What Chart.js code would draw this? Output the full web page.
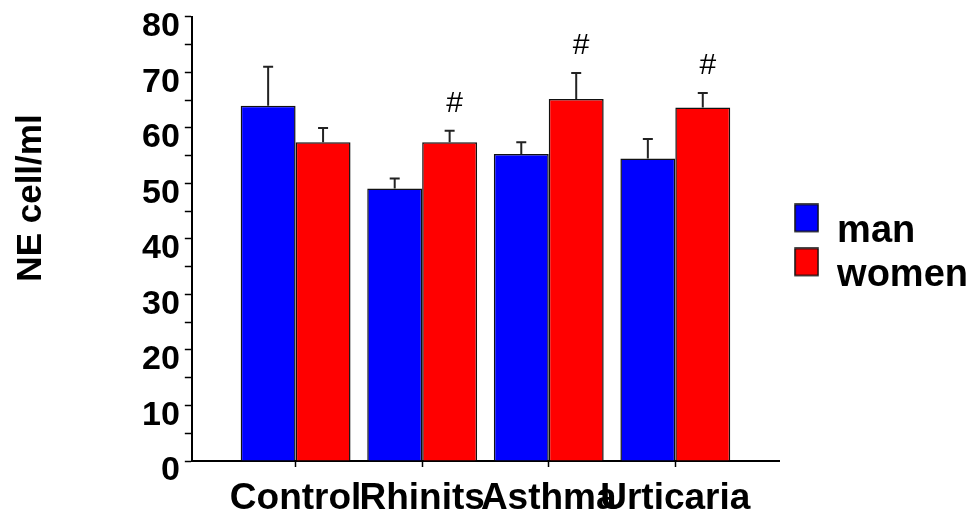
<!DOCTYPE html>
<html><head><meta charset="utf-8">
<script src="https://cdn.jsdelivr.net/npm/chart.js@4/dist/chart.umd.min.js"></script>
<style>html,body{margin:0;padding:0;background:#fff}canvas{display:block}</style>
</head><body>
<canvas id="c" width="979" height="513"></canvas>
<script>
const categories = ['Control', 'Rhinits', 'Asthma', 'Urticaria'];
const seriesNames = ['man', 'women'];
const manValues = [64.0, 49.1, 55.3, 54.5];
const womenValues = [57.4, 57.4, 65.2, 63.7];
const manErrors = [7.0, 1.8, 2.1, 3.5];
const womenErrors = [2.6, 2.1, 4.7, 2.6];
const womenMarks = ['', '#', '#', '#'];
const yAxisTitle = 'NE cell/ml';

const FONT = "'Liberation Sans', Arial, Helvetica, sans-serif";
Chart.defaults.color = '#000';
Chart.defaults.font.family = FONT;

// legend swatch: square sitting a little above the text's middle line
function swatch(color) {
  const c = document.createElement('canvas');
  c.width = 25; c.height = 57;
  const g = c.getContext('2d');
  g.fillStyle = color;
  g.fillRect(1, 1, 23, 27);
  g.strokeStyle = '#111';
  g.lineWidth = 1.5;
  g.strokeRect(1, 1, 23, 27);
  return c;
}

const errorBars = {
  id: 'errorBars',
  afterDatasetsDraw(chart) {
    const ctx = chart.ctx;
    const ys = chart.scales.y;
    const sets = [[manValues, manErrors], [womenValues, womenErrors]];
    ctx.save();
    ctx.strokeStyle = '#222';
    ctx.lineWidth = 2;
    sets.forEach(([vals, errs], d) => {
      chart.getDatasetMeta(d).data.forEach((bar, i) => {
        const yt = ys.getPixelForValue(vals[i] + errs[i]);
        ctx.beginPath();
        ctx.moveTo(bar.x, bar.y);
        ctx.lineTo(bar.x, yt);
        ctx.moveTo(bar.x - 5, yt);
        ctx.lineTo(bar.x + 5, yt);
        ctx.stroke();
      });
    });
    ctx.fillStyle = '#000';
    ctx.font = '30px ' + FONT;
    ctx.textAlign = 'center';
    ctx.textBaseline = 'middle';
    chart.getDatasetMeta(1).data.forEach((bar, i) => {
      if (!womenMarks[i]) return;
      const yt = ys.getPixelForValue(womenValues[i] + womenErrors[i]);
      ctx.fillText(womenMarks[i], bar.x + 5, yt - 27);
    });
    ctx.restore();
  },
  afterDraw(chart) {
    const ctx = chart.ctx;
    ctx.save();
    ctx.translate(31, 198);
    ctx.rotate(-Math.PI / 2);
    ctx.font = 'bold 35px ' + FONT;
    ctx.fillStyle = '#000';
    ctx.textAlign = 'center';
    ctx.textBaseline = 'middle';
    ctx.fillText(yAxisTitle, 0, 0);
    ctx.restore();
  },
  afterLayout(chart) {
    const lg = chart.legend;
    if (lg) { lg.left += 10; lg.right += 10; lg.top += 15; lg.bottom += 15; }
  }
};

new Chart(document.getElementById('c'), {
  type: 'bar',
  data: {
    datasets: [
      {
        label: seriesNames[0],
        data: categories.map((c, i) => ({x: i, y: manValues[i]})),
        backgroundColor: '#0000ff',
        borderColor: '#111',
        borderWidth: 1.5,
        pointStyle: swatch('#0000ff')
      },
      {
        label: seriesNames[1],
        data: categories.map((c, i) => ({x: i, y: womenValues[i]})),
        backgroundColor: '#ff0000',
        borderColor: '#111',
        borderWidth: 1.5,
        pointStyle: swatch('#ff0000')
      }
    ]
  },
  options: {
    responsive: false,
    animation: false,
    events: [],
    categoryPercentage: 0.868,
    barPercentage: 1.0,
    layout: { padding: { left: 137, right: 11, top: 0, bottom: -17 } },
    plugins: {
      tooltip: { enabled: false },
      legend: {
        position: 'right',
        fullSize: false,
        labels: {
          usePointStyle: true,
          boxWidth: 23,
          boxHeight: 27,
          padding: 6,
          color: '#000',
          font: { family: FONT, size: 38, weight: 'bold' }
        }
      }
    },
    scales: {
      x: {
        type: 'linear',
        offset: false,
        min: -0.82,
        max: 3.82,
        afterBuildTicks: s => { s.ticks = categories.map((c, i) => ({ value: i })); },
        ticks: {
          autoSkip: false,
          maxRotation: 0,
          padding: 13,
          color: '#000',
          callback: v => categories[v] !== undefined ? categories[v] : '',
          font: { family: FONT, size: 37, weight: 'bold', lineHeight: 1 }
        },
        grid: { offset: false, drawOnChartArea: false, drawTicks: true, tickLength: 6, tickColor: '#000', tickWidth: 1.5 },
        border: { display: true, color: '#000', width: 2 }
      },
      y: {
        min: 0,
        max: 80,
        ticks: {
          stepSize: 5,
          padding: 5,
          labelOffset: 10,
          color: '#000',
          callback: v => (v % 10 === 0 ? v : ''),
          font: { family: FONT, size: 34, weight: 'bold', lineHeight: 0.7 }
        },
        grid: { drawOnChartArea: false, drawTicks: true, tickLength: 7, tickColor: '#000', tickWidth: 1.5 },
        border: { display: true, color: '#000', width: 2 }
      }
    }
  },
  plugins: [errorBars]
});
</script>
</body></html>
